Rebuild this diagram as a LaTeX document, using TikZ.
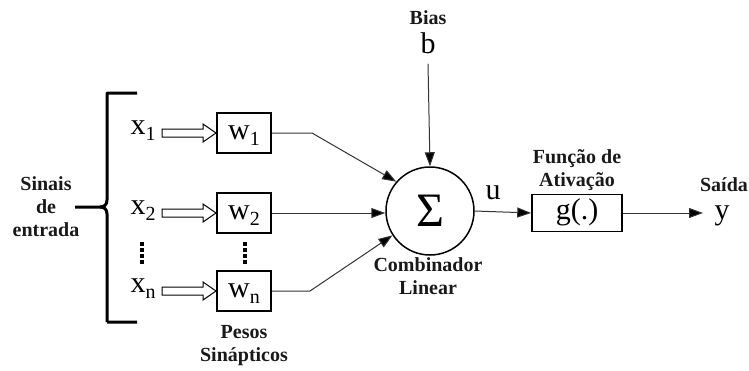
\documentclass[tikz,border=0pt]{standalone}
\usepackage{fontspec}
\setmainfont{Liberation Serif}
\usetikzlibrary{arrows.meta,calc}
\newcommand\lsub[1]{\raisebox{-6pt}{\fontsize{20}{20}\selectfont #1}}
\newcommand\hollowarrow[1]{\draw[line width=1pt] ($(#1)+(0,-4)$) -- ++(41,0) -- ++(0,-5) -- ++(13,9) -- ++(-13,9) -- ++(0,-5) -- ++(-41,0) -- cycle;}
\begin{document}
\begin{tikzpicture}[x=1pt,y=-1pt,
  lbl/.style={font=\fontsize{20}{23}\selectfont\bfseries, align=center, inner sep=0pt, text=black!90},
  sym/.style={font=\fontsize{30}{30}\selectfont, inner sep=0pt},
  wbox/.style={draw, line width=1.5pt, minimum width=54pt, minimum height=40pt, inner sep=0pt,
     font=\fontsize{30}{30}\selectfont, text height=18pt, text depth=6pt},
  conn/.style={line width=1pt, draw=black!80},
  arr/.style={conn, -{Triangle[length=14pt,width=10pt,fill=black]}},
  dotsv/.style={line width=3.5pt, dash pattern=on 3.5pt off 2.5pt}
]
\useasboundingbox (0,0) rectangle (749,370);

% brace
\draw[line width=3pt, line join=round] (137,93) -- (107,93) -- (107,200) .. controls (107,205) and (104,207) .. (100,207) -- (75,207);
\draw[line width=3pt, line join=round] (107,322) -- (137,322) (107,322) -- (107,214) .. controls (107,209) and (104,207) .. (100,207);
\node[lbl] (sinais) at (46,207) {Sinais\\de\\entrada};

% inputs
\node[sym] (x1) at (143,131) {x\lsub{1}};
\node[sym] (x2) at (143,211) {x\lsub{2}};
\node[sym] (xn) at (143,289) {x\lsub{n}};

\node[wbox] (w1) at (244,133) {w\lsub{1}};
\node[wbox] (w2) at (244,213) {w\lsub{2}};
\node[wbox] (wn) at (244,291) {w\lsub{n}};

\coordinate (a1) at (162,133);
\coordinate (a2) at (162,213);
\coordinate (an) at (162,291);
\hollowarrow{a1}
\hollowarrow{a2}
\hollowarrow{an}

\draw[dotsv] (142,242) -- (142,264);
\draw[dotsv] (245,242) -- (245,264);

\node[lbl] (pesos) at (244,346) {Pesos\\Sinápticos};

% summation
\node[draw, circle, line width=1.5pt, minimum size=88pt, inner sep=0pt,
      font=\fontsize{48}{48}\selectfont] (sum) at (430,211) {Σ};
\node[lbl] (comb) at (428,276) {Combinador\\Linear};

\node[lbl] (bias) at (428,18) {Bias};
\node[sym] (b) at (428,43) {b};
\draw[arr] (b.south) ++(0,10) -- (sum.north);

\coordinate (k1) at (312,133);
\coordinate (kn) at (310,291);
\draw[arr] (w1.east) -- (k1) -- (sum.139);
\draw[arr] (w2.east) -- (sum.west |- w2.east);
\draw[arr] (wn.east) -- (kn) -- (sum.213);

% activation
\node[sym] (u) at (493,193) {u};
\node[wbox, minimum width=90pt, minimum height=37pt] (g) at (577,213) {g(.)};
\node[lbl] (func) at (577,170) {Função de\\Ativação};
\draw[arr] (sum.east) -- (g.west);

\node[sym] (y) at (722,216) {y};
\node[lbl] (saida) at (724,185) {Saída};
\coordinate (yend) at (703,213);
\draw[arr] (g.east) -- (yend);
\end{tikzpicture}
\end{document}
